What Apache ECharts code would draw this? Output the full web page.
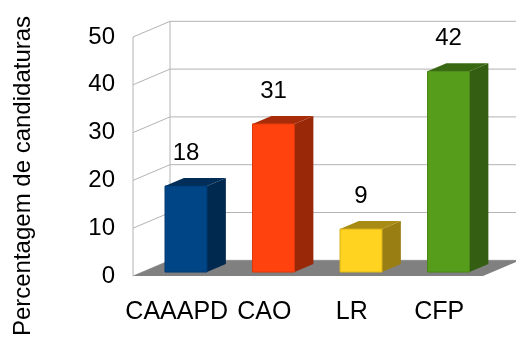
<!DOCTYPE html>
<html>
<head>
<meta charset="utf-8">
<script src="https://cdn.jsdelivr.net/npm/echarts@6/dist/echarts.min.js"></script>
<style>
  html, body { margin: 0; padding: 0; background: #fff; }
  #chart { width: 516px; height: 340px; }
</style>
</head>
<body>
<div id="chart"></div>
<script>
const categories = ['CAAAPD', 'CAO', 'LR', 'CFP'];
const values = [18, 31, 9, 42];
const yTicks = [0, 10, 20, 30, 40, 50];
const barColors = ['#004586', '#ff420e', '#ffd320', '#579d1c'];

// fake 3d depth (pixels, front plane -> back wall)
const DX = 37, DY = -15.7;
const FRONT = 0.25, BACK = 0.76;
const FONT = '"Liberation Sans", Arial, sans-serif';

const shade = (hex, k) => {
  let r = parseInt(hex.slice(1, 3), 16), g = parseInt(hex.slice(3, 5), 16), b = parseInt(hex.slice(5, 7), 16);
  return `rgb(${Math.round(r * k)},${Math.round(g * k)},${Math.round(b * k)})`;
};

function renderWalls(params, api) {
  const t = api.value(1);
  const band = api.size([1, 0])[0];
  const c = api.coord([0, t]);
  const left = c[0] - band / 2;
  const right = left + band * categories.length;
  const lineStyle = { stroke: '#b3b3b3', lineWidth: 1 };
  const children = [
    { type: 'line', shape: { x1: left, y1: c[1], x2: left + DX, y2: c[1] + DY }, style: lineStyle },
    { type: 'line', shape: { x1: left + DX, y1: c[1] + DY, x2: right + DX + 20, y2: c[1] + DY }, style: lineStyle }
  ];
  if (params.dataIndex === 0) {
    const topC = api.coord([0, yTicks[yTicks.length - 1]]);
    children.push(
      { type: 'line', shape: { x1: left, y1: c[1], x2: left, y2: topC[1] }, style: lineStyle },
      { type: 'line', shape: { x1: left + DX, y1: c[1] + DY, x2: left + DX, y2: topC[1] + DY }, style: lineStyle },
      {
        type: 'polygon',
        shape: { points: [[left, c[1]], [right, c[1]], [right + DX, c[1] + DY], [left + DX, c[1] + DY]] },
        style: { fill: '#808080' }
      }
    );
  }
  return { type: 'group', children: children };
}

function renderBar(params, api) {
  const i = api.value(0), v = api.value(1);
  const band = api.size([1, 0])[0];
  const base = api.coord([i, 0]);
  const top = api.coord([i, v]);
  const hw = band * 0.24;
  const x0 = base[0] - hw + DX * FRONT;
  const x1 = base[0] + hw + DX * FRONT;
  const yb = base[1] + DY * FRONT;
  const yt = top[1] + DY * FRONT;
  const dx = DX * (BACK - FRONT), dy = DY * (BACK - FRONT);
  const col = barColors[params.dataIndex];
  return {
    type: 'group',
    children: [
      {
        type: 'polygon',
        shape: { points: [[x1, yt], [x1 + dx, yt + dy], [x1 + dx, yb + dy], [x1, yb]] },
        style: { fill: shade(col, 0.6) }
      },
      {
        type: 'polygon',
        shape: { points: [[x0, yt], [x0 + dx, yt + dy], [x1 + dx, yt + dy], [x1, yt]] },
        style: { fill: shade(col, 0.66) }
      },
      {
        type: 'rect',
        shape: { x: x0, y: yt, width: x1 - x0, height: yb - yt },
        style: { fill: col, stroke: shade(col, 0.85), lineWidth: 1 }
      },
      {
        type: 'text',
        x: (x0 + x1) / 2,
        y: yt - 33,
        style: {
          text: String(v), fill: '#000', font: '24px ' + FONT,
          align: 'center', verticalAlign: 'middle'
        }
      }
    ]
  };
}

const chart = echarts.init(document.getElementById('chart'));
chart.setOption({
  animation: false,
  backgroundColor: '#fff',
  textStyle: { fontFamily: FONT },
  grid: { left: 133, right: 33, top: 37, bottom: 64, containLabel: false, outerBoundsMode: 'none' },
  graphic: [{
    type: 'text',
    x: 23, y: 176,
    rotation: Math.PI / 2,
    style: {
      text: 'Percentagem de candidaturas', fill: '#000', font: '24px ' + FONT,
      align: 'center', verticalAlign: 'middle'
    }
  }],
  xAxis: {
    type: 'category',
    data: categories,
    axisLine: { show: false },
    axisTick: { show: false },
    axisLabel: { interval: 0, fontSize: 25, color: '#000', margin: 24 }
  },
  yAxis: {
    type: 'value',
    min: 0, max: 50, interval: 10,
    axisLine: { show: false },
    axisTick: { show: false },
    splitLine: { show: false },
    axisLabel: { fontSize: 24, color: '#000', margin: 18, padding: [5, 0, 0, 0] }
  },
  series: [
    {
      type: 'custom',
      renderItem: renderWalls,
      data: yTicks.map(t => [0, t]),
      encode: { x: 0, y: 1 },
      silent: true,
      z: 1
    },
    {
      type: 'custom',
      renderItem: renderBar,
      data: values.map((v, i) => [i, v]),
      encode: { x: 0, y: 1 },
      z: 2
    }
  ]
});
</script>
</body>
</html>
